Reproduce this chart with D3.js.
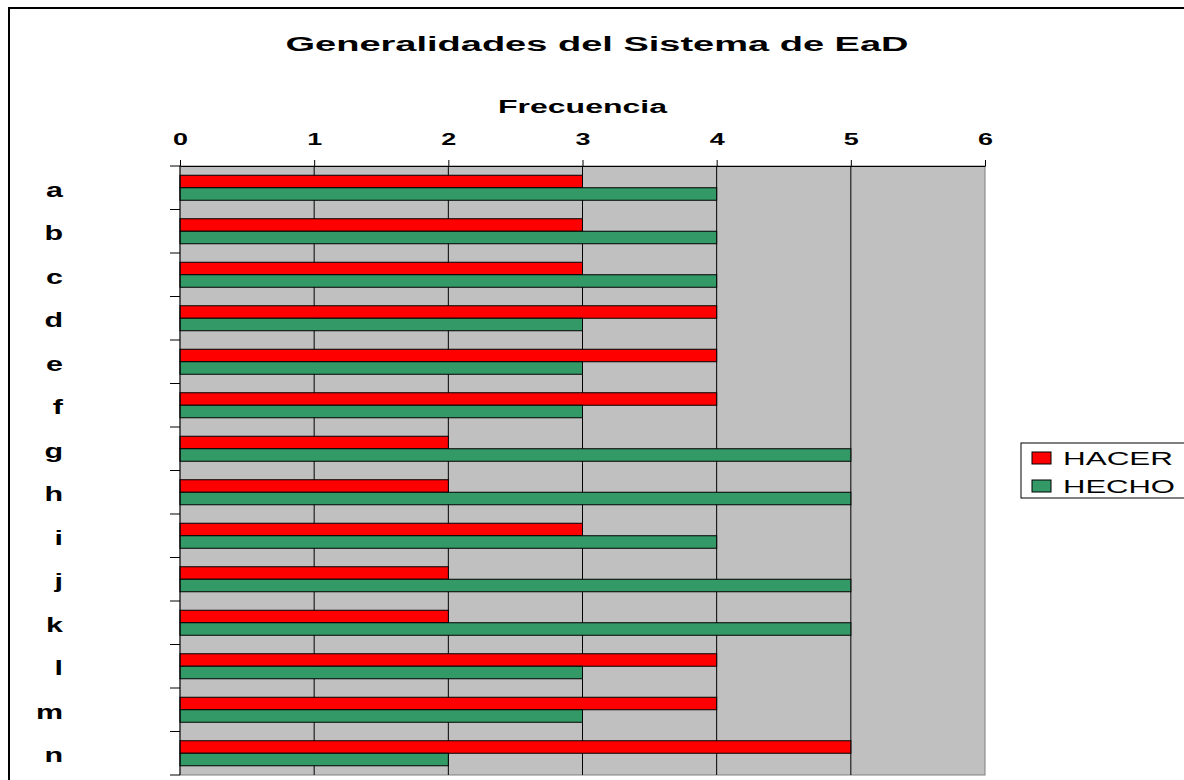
<!DOCTYPE html>
<html>
<head>
<meta charset="utf-8">
<script src="https://cdn.jsdelivr.net/npm/d3@7"></script>
<style>
  body { margin: 0; background: #fff; }
  svg { display: block; font-family: Arial, "Liberation Sans", sans-serif; }
</style>
</head>
<body>
<svg id="chart" width="1184" height="780"></svg>
<script>
var categories = ["a","b","c","d","e","f","g","h","i","j","k","l","m","n"];
var series = ["HACER","HECHO"];
var hacer = [3,3,3,4,4,4,2,2,3,2,2,4,4,5];
var hecho = [4,4,4,3,3,3,5,5,4,5,5,3,3,2];
var xTicks = [0,1,2,3,4,5,6];
var colors = ["#ff0000","#339966"];

function makeChart(){
    var svg = d3.select("#chart");

    var plotLeft = 180, plotRight = 985, plotTop = 166, plotBottom = 775;

    // outer chart border
    svg.append("rect")
        .attr("x", 9).attr("y", 8)
        .attr("width", 1200).attr("height", 800)
        .attr("fill", "#fff")
        .attr("stroke", "#000")
        .attr("stroke-width", 2);

    var xScale = d3.scaleLinear().domain([0, 6]).range([plotLeft, plotRight]);
    var yScale = d3.scaleBand().domain(categories).range([plotTop, plotBottom]).padding(0);
    var ySub = d3.scaleBand().domain(series).range([0, yScale.bandwidth()])
        .paddingInner(0).paddingOuter(0.74);

    // plot area
    svg.append("rect")
        .attr("x", plotLeft).attr("y", plotTop)
        .attr("width", plotRight - plotLeft).attr("height", plotBottom - plotTop)
        .attr("fill", "#c0c0c0")
        .attr("stroke", "#808080");

    // grid lines
    svg.append("g").selectAll("line")
        .data(xTicks.slice(1, 6))
        .enter().append("line")
        .attr("x1", function(d){ return xScale(d); })
        .attr("x2", function(d){ return xScale(d); })
        .attr("y1", plotTop).attr("y2", plotBottom)
        .attr("stroke", "#000")
        .attr("stroke-width", 1);

    // bars
    var rows = categories.map(function(c, i){
        return {cat: c, vals: [hacer[i], hecho[i]]};
    });

    var groups = svg.append("g").selectAll("g")
        .data(rows)
        .enter().append("g")
        .attr("transform", function(d){ return "translate(0," + yScale(d.cat) + ")"; });

    groups.selectAll("rect")
        .data(function(d){ return d.vals.map(function(v, j){ return {s: series[j], v: v, j: j}; }); })
        .enter().append("rect")
        .attr("x", xScale(0))
        .attr("y", function(d){ return ySub(d.s); })
        .attr("width", function(d){ return xScale(d.v) - xScale(0); })
        .attr("height", ySub.bandwidth())
        .attr("fill", function(d){ return colors[d.j]; })
        .attr("stroke", "#000")
        .attr("stroke-width", 1);

    // top axis
    var xAxis = svg.append("g")
        .attr("transform", "translate(0," + plotTop + ")")
        .call(d3.axisTop(xScale).tickValues(xTicks).tickFormat(d3.format("d"))
            .tickSize(6).tickPadding(15).tickSizeOuter(0));
    xAxis.select(".domain").attr("stroke", "#000");
    xAxis.selectAll(".tick line").attr("stroke", "#000");
    xAxis.selectAll(".tick text")
        .attr("font-size", 17)
        .attr("font-weight", "bold")
        .attr("fill", "#000")
        .attr("textLength", 15)
        .attr("lengthAdjust", "spacingAndGlyphs");

    // left axis line and tick marks at band boundaries
    var bounds = categories.map(function(c){ return yScale(c); }).concat([plotBottom]);
    svg.append("line")
        .attr("x1", plotLeft).attr("x2", plotLeft)
        .attr("y1", plotTop).attr("y2", plotBottom)
        .attr("stroke", "#000");
    svg.append("g").selectAll("line")
        .data(bounds)
        .enter().append("line")
        .attr("x1", plotLeft - 10).attr("x2", plotLeft)
        .attr("y1", function(d){ return d; })
        .attr("y2", function(d){ return d; })
        .attr("stroke", "#000");

    // category labels
    svg.append("g").selectAll("g")
        .data(categories)
        .enter().append("g")
        .attr("transform", function(d){
            return "translate(63," + (yScale(d) + yScale.bandwidth() / 2 + 9) + ") scale(1.45,1)";
        })
        .append("text")
        .attr("text-anchor", "end")
        .attr("font-size", 21)
        .attr("font-weight", "bold")
        .attr("fill", "#000")
        .text(function(d){ return d; });

    // title
    svg.append("text")
        .attr("x", 597).attr("y", 51)
        .attr("text-anchor", "middle")
        .attr("font-size", 20)
        .attr("font-weight", "bold")
        .attr("textLength", 623)
        .attr("lengthAdjust", "spacingAndGlyphs")
        .text("Generalidades del Sistema de EaD");

    // axis title
    svg.append("text")
        .attr("x", (plotLeft + plotRight) / 2).attr("y", 113)
        .attr("text-anchor", "middle")
        .attr("font-size", 18)
        .attr("font-weight", "bold")
        .attr("textLength", 169)
        .attr("lengthAdjust", "spacingAndGlyphs")
        .text("Frecuencia");

    // legend
    var legend = svg.append("g");
    legend.append("rect")
        .attr("x", 1021).attr("y", 443)
        .attr("width", 180).attr("height", 55)
        .attr("fill", "#fff")
        .attr("stroke", "#000");

    var items = legend.selectAll("g.item")
        .data(series)
        .enter().append("g")
        .attr("class", "item")
        .attr("transform", function(d, i){ return "translate(0," + (i * 28) + ")"; });

    items.append("rect")
        .attr("x", 1032).attr("y", 452)
        .attr("width", 19).attr("height", 12)
        .attr("fill", function(d, i){ return colors[i]; })
        .attr("stroke", "#000");

    items.append("text")
        .attr("x", 1063).attr("y", 465)
        .attr("font-size", 18)
        .attr("fill", "#000")
        .attr("textLength", function(d){ return d === "HACER" ? 110 : 112; })
        .attr("lengthAdjust", "spacingAndGlyphs")
        .text(function(d){ return d; });
}

makeChart();
</script>
</body>
</html>
